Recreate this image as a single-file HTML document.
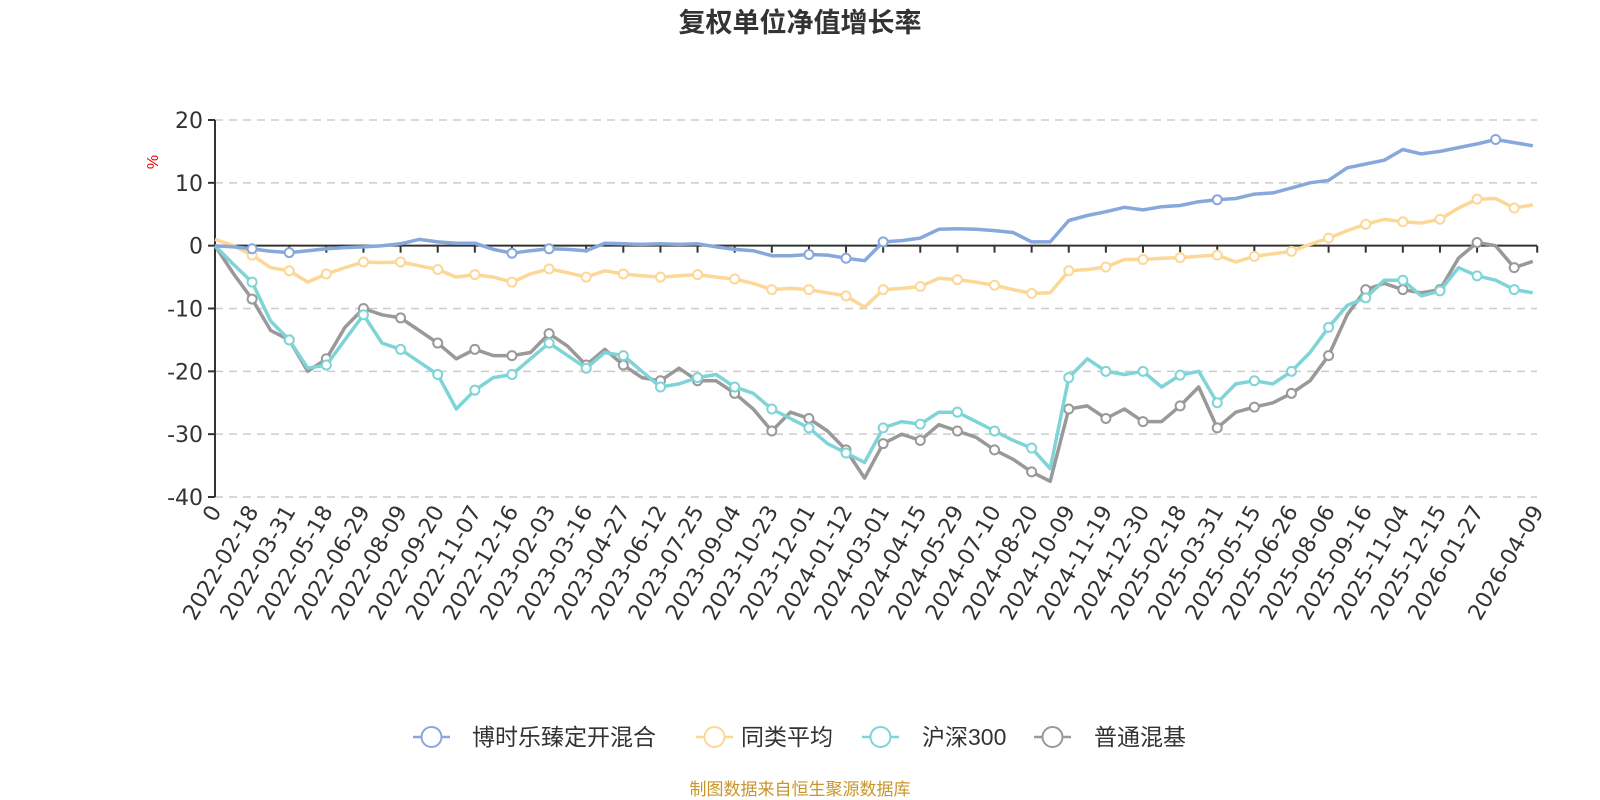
<!DOCTYPE html>
<html><head><meta charset="utf-8">
<style>
html,body{margin:0;padding:0;background:#fff;}
svg{display:block;font-family:"Liberation Sans","Noto Sans CJK SC",sans-serif;}
</style></head>
<body>
<svg id="chart" width="1600" height="800" viewBox="0 0 1600 800" xmlns="http://www.w3.org/2000/svg">
<text x="800" y="32" text-anchor="middle" font-size="27" font-weight="bold" fill="#333">复权单位净值增长率</text>
<text x="158" y="162" font-size="16" fill="#e00" text-anchor="middle" transform="rotate(-90 158 162)">%</text>
<g id="grid"></g>
<g id="axes"></g>
<g id="series"></g>
<g id="legend"></g>
<text x="800" y="795" text-anchor="middle" font-size="17" fill="#c9952a">制图数据来自恒生聚源数据库</text>
</svg>
<script>
const xTickLabels = ["0","2022-02-18","2022-03-31","2022-05-18","2022-06-29","2022-08-09","2022-09-20","2022-11-07","2022-12-16","2023-02-03","2023-03-16","2023-04-27","2023-06-12","2023-07-25","2023-09-04","2023-10-23","2023-12-01","2024-01-12","2024-03-01","2024-04-15","2024-05-29","2024-07-10","2024-08-20","2024-10-09","2024-11-19","2024-12-30","2025-02-18","2025-03-31","2025-05-15","2025-06-26","2025-08-06","2025-09-16","2025-11-04","2025-12-15","2026-01-27","2026-04-09"];
const xTickPos = [0,1,2,3,4,5,6,7,8,9,10,11,12,13,14,15,16,17,18,19,20,21,22,23,24,25,26,27,28,29,30,31,32,33,34,35.62];
const yTicks = [20,10,0,-10,-20,-30,-40];
const seriesNames = ["博时乐臻定开混合","同类平均","沪深300","普通混基"];
const fundValues = [0,-0.2,-0.5,-0.9,-1.1,-0.8,-0.5,-0.3,-0.2,0,0.3,1,0.6,0.4,0.4,-0.6,-1.2,-0.8,-0.5,-0.6,-0.8,0.4,0.3,0.2,0.3,0.2,0.3,-0.2,-0.6,-0.8,-1.6,-1.6,-1.4,-1.5,-2,-2.4,0.6,0.8,1.2,2.6,2.7,2.6,2.4,2.1,0.6,0.6,4,4.8,5.4,6.1,5.7,6.2,6.4,7,7.3,7.5,8.2,8.4,9.2,10,10.4,12.4,13,13.6,15.3,14.6,15,15.6,16.2,16.9,16.4,15.9];
const peerValues = [1,0,-1.5,-3.5,-4,-5.8,-4.5,-3.5,-2.6,-2.7,-2.6,-3.2,-3.8,-5,-4.6,-5,-5.8,-4.5,-3.7,-4.3,-5,-4,-4.5,-4.8,-5,-4.8,-4.6,-5,-5.3,-6,-7,-6.8,-7,-7.5,-8,-9.8,-7,-6.8,-6.5,-5.2,-5.4,-5.8,-6.3,-7,-7.6,-7.5,-4,-3.8,-3.4,-2.2,-2.2,-2,-1.9,-1.7,-1.5,-2.6,-1.7,-1.3,-0.9,0.2,1.2,2.4,3.4,4.2,3.8,3.6,4.2,6,7.4,7.5,6,6.5];
const hs300Values = [0,-3,-5.8,-12,-15,-19.5,-19,-15,-11,-15.5,-16.5,-18.5,-20.5,-26,-23,-21,-20.5,-18,-15.5,-17.5,-19.5,-17,-17.5,-20,-22.5,-22,-21,-20.5,-22.5,-23.5,-26,-27.5,-29,-31.5,-33,-34.5,-29,-28,-28.4,-26.5,-26.5,-28,-29.5,-31,-32.2,-35.5,-21,-18,-20,-20.5,-20,-22.5,-20.6,-20,-25,-22,-21.5,-22,-20,-17,-13,-9.5,-8.3,-5.5,-5.5,-8,-7.2,-3.5,-4.8,-5.5,-7,-7.5];
const mixedValues = [0,-4.5,-8.5,-13.5,-15,-20,-18,-13,-10,-11,-11.5,-13.5,-15.5,-18,-16.5,-17.5,-17.5,-17,-14,-16,-19,-16.5,-19,-21,-21.5,-19.5,-21.5,-21.5,-23.5,-26,-29.5,-26.5,-27.5,-29.5,-32.5,-37,-31.5,-30,-31,-28.5,-29.5,-30.5,-32.5,-34,-36,-37.5,-26,-25.5,-27.5,-26,-28,-28,-25.5,-22.5,-29,-26.5,-25.7,-25,-23.5,-21.5,-17.5,-11,-7,-6,-7,-7.5,-7,-2,0.5,0,-3.5,-2.5];
const fundMarkerIdx = [2,4,16,18,32,34,36,54,69];

const NS="http://www.w3.org/2000/svg";
const X0=215,X1=1537,Y0=120,Y1=497,UNIT=37.12,STEP=0.5;
function xs(u){return X0+u*UNIT;}
function ys(v){return Y0+(20-v)*(Y1-Y0)/60;}
function mk(tag,attrs,parent){const e=document.createElementNS(NS,tag);for(const k in attrs)e.setAttribute(k,attrs[k]);parent.appendChild(e);return e;}
const grid=document.getElementById('grid'),axes=document.getElementById('axes'),ser=document.getElementById('series'),leg=document.getElementById('legend');
yTicks.forEach(v=>{
  if(v!==0){const l=mk('line',{x1:X0,x2:X1,y1:ys(v),y2:ys(v),stroke:'#ccc','stroke-width':1.5,'stroke-dasharray':'8,6'},grid);
  
  }
  const t=mk('line',{x1:X0-7,x2:X0,y1:ys(v),y2:ys(v),stroke:'#333','stroke-width':2},axes);
  
  
  const lb=mk('text',{x:X0-12,y:ys(v)+8,'text-anchor':'end','font-size':22,fill:'#333','font-family':'"DejaVu Sans",sans-serif'},axes);lb.textContent=v;
  
  
});
const ya=mk('line',{x1:X0,x2:X0,y1:Y0,y2:Y1,stroke:'#333','stroke-width':2},axes);


const xa=mk('line',{x1:X0,x2:X1,y1:ys(0),y2:ys(0),stroke:'#333','stroke-width':2},axes);


xTickLabels.forEach((s,i)=>{
  const x=xs(xTickPos[i]);
  const t=mk('line',{x1:x,x2:x,y1:ys(0),y2:ys(0)+7,stroke:'#333','stroke-width':2},axes);
  
  
  const lb=mk('text',{x:x+7,y:Y1+14,'text-anchor':'end','font-size':22,fill:'#333','font-family':'"DejaVu Sans",sans-serif',transform:`rotate(-60 ${x+7} ${Y1+14})`},axes);lb.textContent=s;
  
  
});
const colors=['#88a8dc','#fdd796','#7fd4d7','#999999'];
const all=[fundValues,peerValues,hs300Values,mixedValues];
const order=[3,2,1,0];
order.forEach(si=>{
  const vals=all[si];
  const d=vals.map((v,i)=>(i?'L':'M')+xs(i*STEP).toFixed(1)+','+ys(v).toFixed(1)).join('');
  const p=mk('path',{d:d,fill:'none',stroke:colors[si],'stroke-width':3.5,'stroke-linejoin':'round'},ser);
  
  
  const idx=si===0?fundMarkerIdx:vals.map((v,i)=>i).filter(i=>i%2===0&&i>0);
  idx.forEach(i=>{
    const c=mk('circle',{cx:xs(i*STEP),cy:ys(vals[i]),r:4.5,fill:'#fff',stroke:colors[si],'stroke-width':2},ser);
    
    
  });
});
const legX=[413,696,862,1034];
const legT=[472,741,922,1094];
seriesNames.forEach((n,i)=>{
  const g=mk('g',{},leg);
  
  
  const y=737;
  mk('line',{x1:legX[i],x2:legX[i]+37,y1:y,y2:y,stroke:colors[i],'stroke-width':2.5},g);
  mk('circle',{cx:legX[i]+18.5,cy:y,r:10,fill:'#fff',stroke:colors[i],'stroke-width':2},g);
  const t=mk('text',{x:legT[i],y:y+8,'font-size':23,fill:'#333'},g);t.textContent=n;
});
</script>
</body></html>
